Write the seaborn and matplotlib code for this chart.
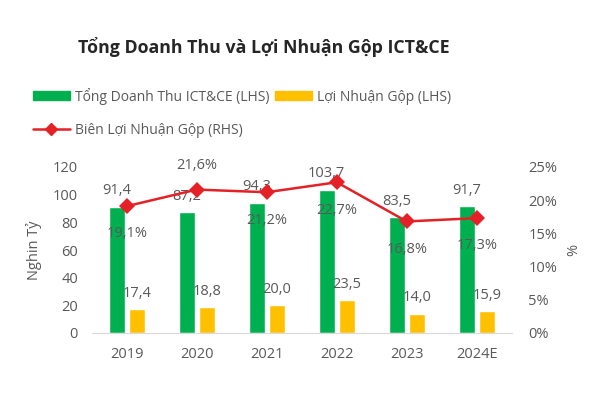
import numpy as np
import pandas as pd
import seaborn as sns
import matplotlib.pyplot as plt
from matplotlib.ticker import FuncFormatter

# data
years = ['2019', '2020', '2021', '2022', '2023', '2024E']
revenue = [91.4, 87.2, 94.3, 103.7, 83.5, 91.7]
gross_profit = [17.4, 18.8, 20.0, 23.5, 14.0, 15.9]
margin = [19.1, 21.6, 21.2, 22.7, 16.8, 17.3]

rev_name = 'Tổng Doanh Thu ICT&CE (LHS)'
gp_name = 'Lợi Nhuận Gộp (LHS)'
margin_name = 'Biên Lợi Nhuận Gộp (RHS)'

df = pd.DataFrame({'year': years * 2,
                   'value': revenue + gross_profit,
                   'series': [rev_name] * 6 + [gp_name] * 6})

sns.set_style('white')
plt.rcParams['font.family'] = ['Open Sans', 'DejaVu Sans']
text_col = '#595959'

fig = plt.figure(figsize=(6, 4), dpi=100)
ax = fig.add_axes([0.153, 0.1675, 0.7, 0.415])

sns.barplot(data=df, x='year', y='value', hue='series',
            palette=['#00B050', '#FFC000'], saturation=1, width=0.58, gap=0.2,
            ax=ax, legend=False)
for cont in ax.containers:
    vals = [p.get_height() for p in cont]
    ax.bar_label(cont, labels=[f'{v:.1f}'.replace('.', ',') for v in vals],
                 padding=6, fontsize=10.5, color=text_col)

ax.set_ylim(0, 120)
ax.set_xlim(-0.5, 5.5)
ax.set_yticks(range(0, 121, 20))
ax.set_xlabel('')
ax.set_ylabel('Nghin Tỷ', fontsize=10.5, color=text_col, labelpad=8)
ax.tick_params(axis='both', length=0, labelsize=10.5, colors=text_col, pad=10)
for s in ['top', 'right', 'left']:
    ax.spines[s].set_visible(False)
ax.spines['bottom'].set_color('#d9d9d9')

ax2 = ax.twinx()
sns.lineplot(x=np.arange(len(years)), y=margin, ax=ax2, color='#E32126',
             linewidth=1.8, marker='D', markersize=8, markeredgewidth=0)
ax2.set_ylim(0, 25)
ax2.set_yticks(range(0, 26, 5))
ax2.yaxis.set_major_formatter(FuncFormatter(lambda v, p: f'{v:.0f}%'))
ax2.set_ylabel('%', fontsize=10.5, color=text_col, labelpad=6)
ax2.tick_params(axis='y', length=0, labelsize=10.5, colors=text_col, pad=12)
for s in ['top', 'right', 'left', 'bottom']:
    ax2.spines[s].set_visible(False)

for i, m in enumerate(margin):
    dy = 17 if i == 1 else -20
    ax2.annotate(f'{m:.1f}%'.replace('.', ','), (i, m), xytext=(0, dy),
                 textcoords='offset points', ha='center', va='center',
                 fontsize=10.5, color=text_col)

fig.text(264 / 600, 1 - 47 / 400, 'Tổng Doanh Thu và Lợi Nhuận Gộp ICT&CE',
         ha='center', va='center', fontsize=12.8, fontweight='bold', color='#262626')

handles = [plt.Rectangle((0, 0), 1, 1, color='#00B050'),
           plt.Line2D([], [], color='#E32126', marker='D', markersize=6, lw=1.8),
           plt.Rectangle((0, 0), 1, 1, color='#FFC000')]
labels = [rev_name, margin_name, gp_name]
fig.legend(handles, labels, ncol=2, loc='upper left', bbox_to_anchor=(0.045, 0.795),
           frameon=False, fontsize=10, labelcolor=text_col, handlelength=2.7,
           handleheight=0.55, handletextpad=0.35, columnspacing=0.4,
           labelspacing=1.3, borderaxespad=0)

fig.savefig('out.png', dpi=100)
